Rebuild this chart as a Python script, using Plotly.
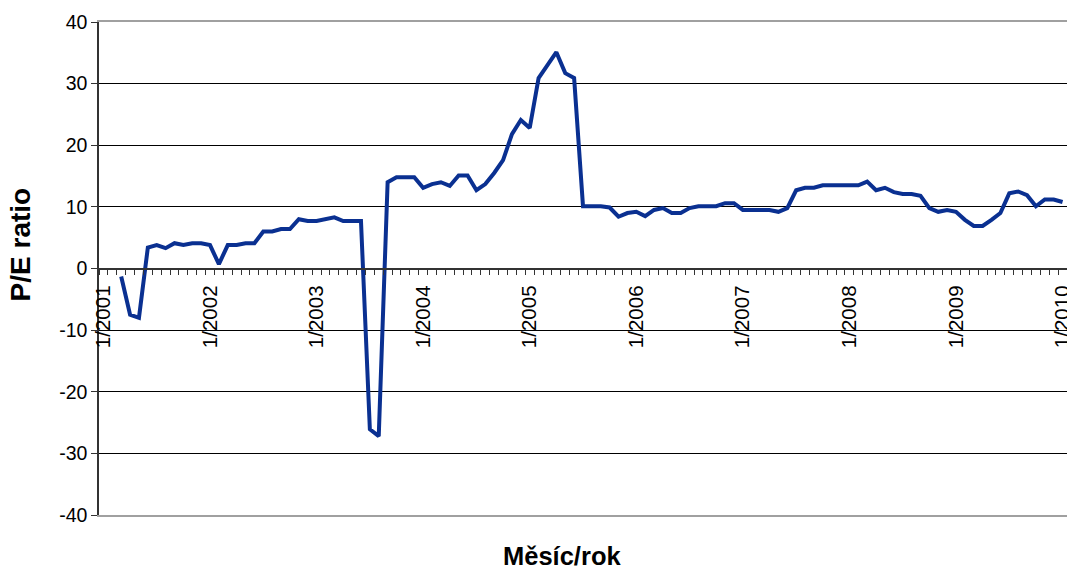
import plotly.graph_objects as go

# month categories 1/2001 .. 1/2010
months = [f"{m}/{y}" for y in range(2001, 2011) for m in range(1, 13)][:109]
year_ticks = list(range(0, 109, 12))
year_labels = [months[i] for i in year_ticks]

y_ticks = [-40, -30, -20, -10, 0, 10, 20, 30, 40]
y_labels = [str(v) for v in y_ticks]

pe_ratio = [
    None, None, -1.3, -7.5, -8.0, 3.4, 3.8, 3.3, 4.1, 3.8, 4.1, 4.1,
    3.8, 0.7, 3.8, 3.8, 4.1, 4.1, 6.0, 6.0, 6.4, 6.4, 8.0, 7.7,
    7.7, 8.0, 8.3, 7.7, 7.7, 7.7, -26.1, -27.2, 14.0, 14.8, 14.8, 14.8,
    13.1, 13.7, 14.0, 13.4, 15.1, 15.1, 12.7, 13.7, 15.5, 17.6, 21.8, 24.1,
    22.8, 30.9, 33.0, 35.1, 31.7, 30.9, 10.1, 10.1, 10.1, 9.9, 8.4, 9.0,
    9.2, 8.5, 9.5, 9.8, 9.0, 9.0, 9.8, 10.1, 10.1, 10.1, 10.6, 10.6,
    9.5, 9.5, 9.5, 9.5, 9.2, 9.8, 12.7, 13.1, 13.1, 13.5, 13.5, 13.5,
    13.5, 13.5, 14.1, 12.7, 13.1, 12.4, 12.1, 12.1, 11.8, 9.8, 9.2, 9.5,
    9.2, 7.9, 6.9, 6.9, 7.9, 9.0, 12.2, 12.5, 11.9, 10.1, 11.2, 11.2,
    10.8,
]

x_idx = list(range(len(months)))
x_range = [-0.5, len(months) - 0.5]

fig = go.Figure()
fig.add_trace(go.Scatter(x=x_idx, y=pe_ratio, mode='lines', customdata=months,
                         hovertemplate='%{customdata}: %{y}<extra></extra>',
                         line=dict(color='#0A3091', width=4), showlegend=False))
# empty trace so the framing axis (top/bottom grey border) gets drawn
fig.add_trace(go.Scatter(x=[], y=[], xaxis='x2', yaxis='y', showlegend=False))

fig.update_layout(
    width=1067, height=567,
    margin=dict(l=99, r=0, t=22, b=52),
    paper_bgcolor='white', plot_bgcolor='white',
    font=dict(family='Liberation Sans, Arial, sans-serif', size=19.5, color='black'),
    xaxis=dict(range=x_range, anchor='free', position=0.5, automargin=False,
               tickmode='array', tickvals=year_ticks, ticktext=year_labels,
               tickangle=-90, ticks='', ticklabelstandoff=8, ticklabeloverflow='allow',
               tickfont=dict(size=20.5),
               showline=True, linecolor='#333333', linewidth=1.5,
               showgrid=False, zeroline=False,
               minor=dict(tickmode='linear', tick0=-0.5, dtick=1, ticks='outside',
                          ticklen=6, tickcolor='#333333', tickwidth=1, showgrid=False)),
    xaxis2=dict(range=x_range, overlaying='x', anchor='y', showline=True, mirror=True,
                automargin=False, linecolor='#A0A0A0', linewidth=2,
                showticklabels=False, ticks='', showgrid=False, zeroline=False),
    yaxis=dict(range=[-40, 40], tickmode='array', tickvals=y_ticks, ticktext=y_labels,
               automargin=False, showgrid=True, gridcolor='black', gridwidth=1,
               zeroline=False, showline=True, linecolor='#333333', linewidth=1.5,
               ticks='outside', ticklen=6, tickcolor='#333333'),
    annotations=[
        dict(text='<b>P/E ratio</b>', xref='paper', yref='paper', x=-0.081, y=0.548,
             xanchor='center', yanchor='middle', textangle=-90, showarrow=False,
             font=dict(size=28)),
        dict(text='<b>Měsíc/rok</b>', xref='paper', yref='paper', x=0.478, y=-0.083,
             xanchor='center', yanchor='middle', showarrow=False,
             font=dict(size=25.5)),
    ],
)

# drop the default 8px body margin so the figure fills the window exactly
fig.write_html("out.html", config={'displayModeBar': False},
               post_script="document.body.style.margin='0';"
                           "document.documentElement.style.overflow='hidden';")
